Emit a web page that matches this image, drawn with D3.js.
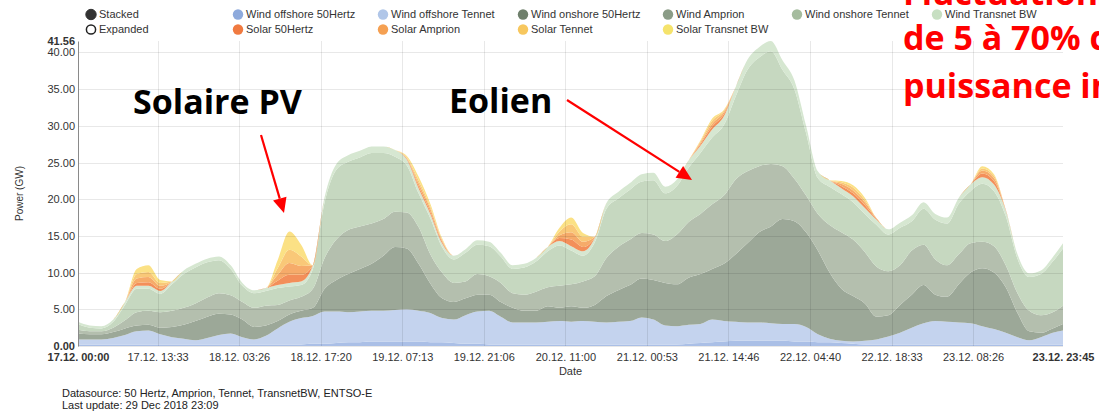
<!DOCTYPE html>
<html><head><meta charset="utf-8">
<script src="https://cdn.jsdelivr.net/npm/d3@7"></script>
<style>
html,body{margin:0;padding:0;background:#fff;overflow:hidden}
svg{display:block;font-family:"Liberation Sans",Arial,sans-serif}
</style></head><body>
<svg id="chart" width="1099" height="412"></svg>
<script>
// time grid in hours since 17.12.2018 00:00 (2-hour steps)
const hours = [0,2,4,6,8,10,12,14,16,18,20,22,
  24,26,28,30,32,34,36,38,40,42,44,46,
  48,50,52,54,56,58,60,62,64,66,68,70,
  72,74,76,78,80,82,84,86,88,90,92,94,
  96,98,100,102,104,106,108,110,112,114,116,118,
  120,122,124,126,128,130,132,134,136,138,140,142,
  144,146,148,150,152,154,156,158,160,162,164,166,167.75];

// series values, GW
const windOffshore50Hertz = [0.2,0.2,0.2,0.2,0.2,0.2,0.2,0.2,0.2,0.2,0.2,0.2,
  0.2,0.2,0.2,0.2,0.2,0.2,0.2,0.2,0.3,0.3,0.4,0.5,
  0.5,0.6,0.6,0.6,0.6,0.6,0.5,0.5,0.4,0.3,0.3,0.2,
  0.2,0.2,0.2,0.2,0.2,0.2,0.2,0.2,0.2,0.2,0.2,0.2,
  0.2,0.2,0.2,0.2,0.3,0.4,0.5,0.6,0.7,0.7,0.7,0.7,
  0.7,0.6,0.6,0.5,0.5,0.4,0.3,0.2,0.2,0.2,0.2,0.2,
  0.2,0.2,0.2,0.2,0.2,0.2,0.2,0.2,0.2,0.2,0.2,0.2,0.2];
const windOffshoreTennet = [0.7,0.7,0.7,0.9,1.3,1.8,1.9,1.4,1.0,0.8,0.6,0.9,
  1.3,1.5,1.0,0.7,1.2,2.2,3.1,3.6,3.8,4.4,4.3,4.1,
  4.2,4.2,4.2,4.3,4.4,4.2,4.0,3.3,3.2,3.9,4.4,4.6,
  3.8,3.0,3.0,3.0,3.1,3.2,3.1,3.2,3.1,3.0,3.1,3.2,
  3.7,3.4,2.6,2.5,2.6,2.6,3.1,2.8,2.6,2.5,2.5,2.4,
  2.3,2.4,2.0,1.1,0.5,0.3,0.3,0.5,0.7,1.1,1.6,2.3,
  2.9,3.2,3.1,3.0,2.9,2.5,2.1,1.6,1.0,0.6,1.0,1.6,1.9];
const windOnshore50Hertz = [0.8,0.7,0.7,0.8,0.9,0.8,0.8,0.9,1.4,1.9,2.6,2.9,
  2.9,2.6,2.4,1.7,1.4,1.0,1.0,1.0,1.1,3.1,4.3,5.2,
  5.8,6.4,7.5,8.6,8.3,6.4,4.0,2.7,2.4,2.3,2.3,2.2,
  2.0,2.0,1.6,1.6,2.1,1.8,2.1,1.8,2.3,3.6,4.3,4.9,
  5.3,5.4,5.8,5.7,6.4,6.8,6.9,7.8,9.2,10.8,12.3,13.2,
  14.3,14.0,12.9,11.4,9.0,7.1,6.2,5.1,3.1,2.9,3.8,4.5,
  5.2,3.6,3.4,5.2,6.9,7.9,7.7,6.2,3.3,1.2,0.6,0.6,0.9];
const windAmprion = [0.5,0.4,0.4,0.6,1.1,1.8,1.9,2.1,2.2,2.3,2.4,2.6,
  2.8,2.6,2.4,2.6,2.7,2.2,1.9,1.9,2.6,4.2,5.5,6.0,
  5.8,5.5,5.0,4.8,4.9,5.0,4.0,3.5,2.6,2.3,2.8,2.5,
  2.6,2.0,2.2,2.6,2.6,3.0,3.0,3.6,3.9,5.2,5.9,6.2,
  6.2,6.2,5.7,6.8,7.6,8.2,8.8,9.3,10.2,9.8,9.0,8.5,
  7.2,5.8,5.0,5.0,6.5,7.7,7.7,7.0,6.8,6.0,5.4,6.0,
  5.5,4.8,4.3,4.1,4.0,3.6,3.6,3.0,2.7,2.8,2.4,2.2,2.5];
const windOnshoreTennet = [0.8,0.5,0.4,0.8,2.1,3.2,3.0,2.5,3.6,4.6,4.9,4.8,
  4.5,3.6,2.2,2.0,2.0,2.3,1.9,1.6,2.7,7.6,9.5,9.3,
  9.4,9.6,9.0,7.5,6.4,4.6,4.9,3.5,3.2,3.9,4.0,4.1,
  3.6,3.3,3.7,4.1,4.9,5.5,4.6,3.5,4.6,6.7,6.6,6.8,
  7.0,7.4,6.5,6.6,7.4,8.3,9.1,9.6,11.3,13.8,14.8,15.36,
  13.1,12.2,8.5,4.9,5.2,5.2,5.1,5.2,5.7,5.0,5.1,4.0,
  4.9,5.4,5.7,6.9,7.1,7.9,7.5,6.7,4.7,4.6,5.6,6.9,7.8];
const windTransnetBW = [0.3,0.3,0.3,0.3,0.4,0.4,0.4,0.4,0.4,0.5,0.5,0.5,
  0.5,0.5,0.4,0.4,0.4,0.4,0.5,0.5,0.5,0.7,0.8,0.9,
  0.9,0.9,0.9,0.9,0.8,0.7,0.6,0.5,0.5,0.5,0.6,0.6,
  0.5,0.5,0.5,0.5,0.6,0.6,0.6,0.6,0.6,0.8,0.9,0.9,
  1.0,1.0,0.9,0.9,1.0,1.0,1.1,1.2,1.3,1.4,1.4,1.4,
  1.3,1.2,1.0,0.9,0.9,0.8,0.8,0.8,0.7,0.7,0.7,0.8,
  0.9,0.8,0.8,0.8,0.9,0.9,0.9,0.8,0.6,0.5,0.5,0.6,0.7];
const solar50Hertz = [0,0,0,0,0,0.4,0.5,0.3,0,0,0,0,
  0,0,0,0,0,0.6,1.1,0.9,0,0,0,0,
  0,0,0,0,0.1,0.3,0.3,0.2,0,0,0,0,
  0,0,0,0,0,0.4,0.9,0.6,0.1,0,0,0,
  0,0,0,0,0,0.2,0.4,0.3,0,0,0,0,
  0,0,0,0,0,0.3,0.4,0.4,0.1,0,0,0,
  0,0,0,0,0,0.5,0.5,0.1,0,0,0,0,0];
const solarAmprion = [0,0,0,0,0,0.6,0.7,0.4,0,0,0,0,
  0,0,0,0,0,0.8,1.6,1.2,0,0,0,0,
  0,0,0,0,0.1,0.4,0.4,0.2,0,0,0,0,
  0,0,0,0,0,0.4,1.0,0.7,0.1,0,0,0,
  0,0,0,0,0,0.2,0.4,0.3,0,0,0,0,
  0,0,0,0,0,0.3,0.4,0.4,0.1,0,0,0,
  0,0,0,0,0,0.4,0.4,0,0,0,0,0,0];
const solarTennet = [0,0,0,0,0,0.6,0.7,0.4,0,0,0,0,
  0,0,0,0,0,0.9,1.8,1.3,0,0,0,0,
  0,0,0,0,0.1,0.4,0.3,0.1,0,0,0,0,
  0,0,0,0,0,0.5,1.1,0.7,0,0,0,0,
  0,0,0,0,0,0.2,0.4,0.2,0,0,0,0,
  0,0,0,0,0,0.2,0.4,0.3,0,0,0,0,
  0,0,0,0,0,0.3,0.3,0,0,0,0,0,0];
const solarTransnetBW = [0,0,0,0,0,0.7,0.9,0.4,0,0,0,0,
  0,0,0,0,0,1.1,2.5,1.6,0,0,0,0,
  0,0,0,0,0.2,0.5,0.4,0.2,0,0,0,0,
  0,0,0,0,0,0.5,0.9,0.5,0,0,0,0,
  0,0,0,0,0,0.1,0.3,0.1,0,0,0,0,
  0,0,0,0,0,0.2,0.3,0.3,0,0,0,0,
  0,0,0,0,0,0.3,0.2,0,0,0,0,0,0];

const seriesNames = ["Wind offshore 50Hertz","Wind offshore Tennet","Wind onshore 50Hertz","Wind Amprion",
  "Wind onshore Tennet","Wind Transnet BW","Solar 50Hertz","Solar Amprion","Solar Tennet","Solar Transnet BW"];
const seriesValues = [windOffshore50Hertz,windOffshoreTennet,windOnshore50Hertz,windAmprion,
  windOnshoreTennet,windTransnetBW,solar50Hertz,solarAmprion,solarTennet,solarTransnetBW];
const legendColors = ["#8eaadc","#b0c6e8","#6f806c","#8b9c87","#a5bc9e","#c7dfc2","#f07a40","#f5a052","#f7c75e","#f5e36c"];
const areaColors = ["#aabfe6","#c4d3ee","#9ca898","#b4bfae","#c6d8c0","#d6e7d1","#f38f5a","#f6ab6a","#f9c878","#fbe185"];

const xTickTimes = ["2018-12-17T00:00Z","2018-12-17T13:33Z","2018-12-18T03:26Z","2018-12-18T17:20Z",
  "2018-12-19T07:13Z","2018-12-19T21:06Z","2018-12-20T11:00Z","2018-12-21T00:53Z","2018-12-21T14:46Z",
  "2018-12-22T04:40Z","2018-12-22T18:33Z","2018-12-23T08:26Z","2018-12-23T23:45Z"];
const yTickValues = [0,5,10,15,20,25,30,35,40];

const svg = d3.select("#chart");
const W = 1099, H = 412;
const plot = {left:78, right:1063, top:41, bottom:346};

const t0 = Date.UTC(2018,11,17,0,0);
const dates = hours.map(h => new Date(t0 + h*3600000));
const rows = dates.map((d,i) => { const r = {date:d}; seriesNames.forEach((n,k) => r[n] = seriesValues[k][i]); return r; });
const stacked = d3.stack().keys(seriesNames)(rows);
const yMax = d3.max(stacked[stacked.length-1], d => d[1]);

const x = d3.scaleUtc().domain([dates[0], dates[dates.length-1]]).range([plot.left, plot.right]);
const y = d3.scaleLinear().domain([0, yMax]).range([plot.bottom, plot.top]);
const xTicks = xTickTimes.map(s => new Date(s));

// areas
const area = d3.area().curve(d3.curveMonotoneX)
  .x(d => x(d.data.date)).y0(d => y(d[0])).y1(d => y(d[1]));
svg.append("g").selectAll("path").data(stacked).join("path")
  .attr("fill", (d,i) => areaColors[i]).attr("d", area);

// grid (drawn over semi-transparent look)
const grid = svg.append("g").attr("stroke","#000").attr("stroke-opacity",0.09).attr("shape-rendering","crispEdges");
grid.selectAll("line.h").data(yTickValues).join("line").attr("class","h")
  .attr("x1",plot.left).attr("x2",plot.right).attr("y1",d=>Math.round(y(d))+0.5).attr("y2",d=>Math.round(y(d))+0.5);
grid.selectAll("line.v").data(xTicks.slice(1,-1)).join("line").attr("class","v")
  .attr("y1",plot.top).attr("y2",plot.bottom).attr("x1",d=>Math.round(x(d))+0.5).attr("x2",d=>Math.round(x(d))+0.5);

// y axis
const yAxis = d3.axisLeft(y).tickValues([...yTickValues, yMax]).tickFormat(d3.format(".2f")).tickSize(0).tickPadding(3);
const gy = svg.append("g").attr("transform",`translate(${plot.left},0)`).call(yAxis);
gy.select(".domain").attr("stroke","#8a8a8a");
gy.selectAll("text").attr("font-family","'Liberation Sans',Arial,sans-serif").attr("font-size",11).attr("fill","#333")
  .attr("font-weight", d => (d===0 || d===yMax) ? "bold" : "normal");

// x axis
const xAxis = d3.axisBottom(x).tickValues(xTicks).tickFormat(d3.utcFormat("%d.%m. %H:%M")).tickSize(0).tickPadding(7);
const gx = svg.append("g").attr("transform",`translate(0,${plot.bottom})`).call(xAxis);
gx.select(".domain").remove();
gx.selectAll("text").attr("font-family","'Liberation Sans',Arial,sans-serif").attr("font-size",11).attr("fill","#333")
  .attr("font-weight", (d,i) => (i===0 || i===xTicks.length-1) ? "bold" : "normal");

// axis labels
svg.append("text").attr("x",(plot.left+plot.right)/2).attr("y",375).attr("text-anchor","middle")
  .attr("font-size",11).attr("fill","#333").text("Date");
svg.append("text").attr("transform",`translate(23,${(plot.top+plot.bottom)/2}) rotate(-90)`).attr("text-anchor","middle")
  .attr("font-size",10).attr("fill","#333").text("Power (GW)");

// legend
const legendCols = [238,383,523,668,797,937];
const legendRowY = [14.5,29.5];
const lg = svg.append("g").attr("font-size",11).attr("fill","#333");
lg.append("circle").attr("cx",91).attr("cy",legendRowY[0]).attr("r",5.2).attr("fill","#333").attr("stroke","#333");
lg.append("text").attr("x",99).attr("y",legendRowY[0]).attr("dy","0.35em").text("Stacked");
lg.append("circle").attr("cx",91).attr("cy",legendRowY[1]).attr("r",4.6).attr("fill","#fff").attr("stroke","#222").attr("stroke-width",1.5);
lg.append("text").attr("x",99).attr("y",legendRowY[1]).attr("dy","0.35em").text("Expanded");
seriesNames.forEach((n,i) => {
  const row = i < 6 ? 0 : 1, col = i < 6 ? i : i - 6;
  lg.append("circle").attr("cx",legendCols[col]).attr("cy",legendRowY[row]).attr("r",5.2).attr("fill",legendColors[i]);
  lg.append("text").attr("x",legendCols[col]+8).attr("y",legendRowY[row]).attr("dy","0.35em").text(n);
});

// footer
svg.append("text").attr("x",62).attr("y",397).attr("font-size",11).attr("fill","#222")
  .text("Datasource: 50 Hertz, Amprion, Tennet, TransnetBW, ENTSO-E");
svg.append("text").attr("x",62).attr("y",409).attr("font-size",11).attr("fill","#222")
  .text("Last update: 29 Dec 2018 23:09");

// annotations
const ann = svg.append("g").attr("font-family","'Open Sans',sans-serif").attr("font-weight","bold");
ann.append("text").attr("x",133).attr("y",114).attr("font-size",34).attr("fill","#000").text("Solaire PV");
ann.append("text").attr("x",449).attr("y",113).attr("font-size",34).attr("fill","#000").text("Eolien");
const red = "#ff0000";
ann.append("text").attr("x",903).attr("y",5).attr("font-size",34).attr("fill",red).text("Fluctuations");
ann.append("text").attr("x",903).attr("y",50).attr("font-size",34).attr("fill",red).text("de 5 à 70% de la");
ann.append("text").attr("x",903).attr("y",98).attr("font-size",34).attr("fill",red).text("puissance installée");

function arrow(x1,y1,x2,y2){
  const a = Math.atan2(y2-y1,x2-x1), L = 15, w = 7;
  const bx = x2 - L*Math.cos(a), by = y2 - L*Math.sin(a);
  svg.append("line").attr("x1",x1).attr("y1",y1).attr("x2",bx).attr("y2",by).attr("stroke",red).attr("stroke-width",2.2);
  svg.append("path").attr("fill",red).attr("d",
    `M${x2},${y2}L${bx + w*Math.sin(a)},${by - w*Math.cos(a)}L${bx - w*Math.sin(a)},${by + w*Math.cos(a)}Z`);
}
arrow(261,135,284,213);
arrow(567,100,692,180);
</script>
</body></html>
